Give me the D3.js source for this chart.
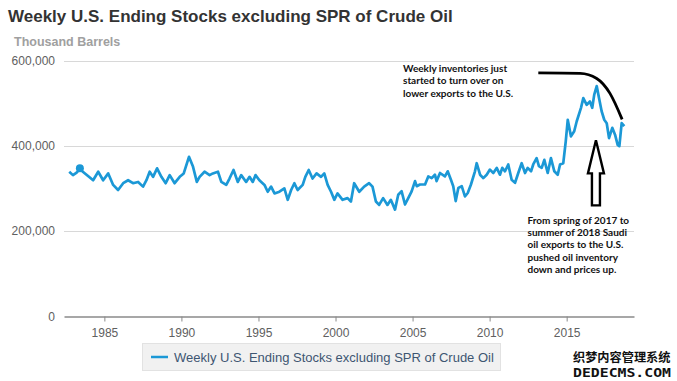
<!DOCTYPE html>
<html>
<head>
<meta charset="utf-8">
<script src="https://cdn.jsdelivr.net/npm/d3@7"></script>
<style>
  body { margin: 0; background: #fff; }
  svg { display: block; font-family: "Liberation Sans", Arial, sans-serif; }
</style>
</head>
<body>
<svg id="chart" width="677" height="381"></svg>
<script>
// weekly ending stocks (decimal year, thousand barrels)
var years = [1982.72, 1982.96, 1983.2, 1983.41, 1983.74, 1984.0, 1984.27, 1984.6, 1984.92, 1985.25,
    1985.57, 1985.89, 1986.22, 1986.54, 1986.86, 1987.19, 1987.51, 1987.73, 1987.94, 1988.16,
    1988.42, 1988.7, 1988.98, 1989.24, 1989.56, 1989.89, 1990.15, 1990.49, 1990.75, 1991.0,
    1991.18, 1991.5, 1991.83, 1992.04, 1992.37, 1992.59, 1992.91, 1993.12, 1993.38, 1993.66,
    1993.88, 1994.2, 1994.42, 1994.63, 1994.81, 1995.06, 1995.39, 1995.6, 1995.82, 1996.04,
    1996.36, 1996.68, 1996.9, 1997.12, 1997.33, 1997.54, 1997.87, 1998.04, 1998.26, 1998.51,
    1998.77, 1999.06, 1999.27, 1999.49, 1999.71, 1999.92, 2000.13, 2000.46,
    2000.78, 2001.0, 2001.21, 2001.54, 2001.86, 2002.18, 2002.4, 2002.62, 2002.83, 2003.09,
    2003.37, 2003.59,
    2003.86, 2004.07, 2004.29, 2004.51, 2004.72, 2004.94, 2005.16, 2005.27, 2005.48, 2005.81,
    2006.02, 2006.24, 2006.45, 2006.56, 2006.78, 2007.10, 2007.28, 2007.49, 2007.64, 2007.80,
    2007.97, 2008.19, 2008.40, 2008.58, 2008.79, 2009.05, 2009.16, 2009.38, 2009.59, 2009.81,
    2010.02, 2010.24, 2010.46, 2010.67, 2010.82, 2011.00, 2011.21, 2011.43, 2011.65, 2011.86,
    2012.08, 2012.30, 2012.47, 2012.69, 2012.83, 2013.05, 2013.20, 2013.38, 2013.55, 2013.77,
    2013.98, 2014.20, 2014.42, 2014.57, 2014.78, 2014.94, 2015.07, 2015.28, 2015.49, 2015.65,
    2015.93, 2016.08, 2016.30, 2016.51, 2016.66, 2016.79, 2016.95, 2017.10, 2017.27, 2017.44,
    2017.60, 2017.75, 2017.96, 2018.14, 2018.31, 2018.42, 2018.57, 2018.74];

var stocks = [340, 332, 338, 346, 336, 328, 320, 340, 320, 336,
    309, 297, 313, 320, 313, 316, 305, 320, 340, 328,
    348, 328, 313, 332, 313, 328, 336, 375, 352, 316,
    328, 340, 332, 336, 340, 316, 309, 324, 344, 316,
    332, 316, 328, 316, 332, 320, 309, 293, 305, 289,
    293, 301, 274, 297, 313, 297, 309, 328, 344, 324,
    336, 328, 336, 309, 293, 274, 289, 274,
    278, 270, 313, 293, 305, 313, 305, 270, 262, 278,
    262, 274,
    251, 286, 294, 263, 278, 294, 318, 306, 310, 310,
    329, 325, 333, 318, 337, 329, 341, 321, 306, 271,
    302, 306, 282, 290, 310, 341, 360, 333, 325, 333,
    345, 337, 349, 333, 349, 341, 357, 321, 314, 337,
    360, 337, 349, 341, 357, 372, 353, 349, 368, 337,
    372, 341, 333, 357, 360, 411, 462, 423, 435, 458,
    490, 513, 497, 505, 490, 521, 541, 513, 482, 462,
    454, 419, 443, 427, 403, 400, 454, 447];

var markerIndex = 3;   // highlighted point
var xTicks = [1985, 1990, 1995, 2000, 2005, 2010, 2015];
var yTicks = [0, 200, 400, 600];

var seriesName = "Weekly U.S. Ending Stocks excluding SPR of Crude Oil";
var titleText = "Weekly U.S. Ending Stocks excluding SPR of Crude Oil";
var unitText = "Thousand Barrels";
var note1 = ["Weekly inventories just", "started to turn over on", "lower exports to the U.S."];
var note2 = ["From spring of 2017 to", "summer of 2018 Saudi", "oil exports to the U.S.", "pushed oil inventory", "down and prices up."];

// annotation shapes, in data units
var bendYears = [2013.16, 2015.87, 2016.95, 2017.81, 2018.6];
var bendValues = [572, 571, 559, 524, 463];
var arrowAt = {year: 2016.9, tip: 414, head: 336, base: 261};

var blue = "#1b98d6";

var svg = d3.select("#chart");

var x = d3.scaleLinear().domain([1982.38, 2019.37]).range([64, 634]);
var y = d3.scaleLinear().domain([0, 600]).range([316.5, 61]);

// title
svg.append("text")
    .attr("x", 8).attr("y", 22)
    .style("font-size", "17px").style("font-weight", "bold")
    .attr("fill", "#333")
    .text(titleText);

svg.append("text")
    .attr("x", 14).attr("y", 46)
    .style("font-size", "12.5px").style("font-weight", "bold")
    .attr("fill", "#a0a0a0")
    .text(unitText);

// grid + y labels
var grid = svg.append("g");
grid.selectAll("line")
    .data(yTicks.filter(d => d > 0))
    .join("line")
    .attr("x1", x.range()[0]).attr("x2", x.range()[1])
    .attr("y1", d => Math.round(y(d)) + 0.5).attr("y2", d => Math.round(y(d)) + 0.5)
    .attr("stroke", "#d8d8d8").attr("stroke-width", 1);

grid.selectAll("text")
    .data(yTicks)
    .join("text")
    .attr("x", 55)
    .attr("y", d => y(d) + 4)
    .attr("text-anchor", "end")
    .style("font-size", "12px")
    .attr("fill", "#606060")
    .text(d => d3.format(",")(d * 1000));

// x axis
var xAxis = svg.append("g")
    .attr("transform", "translate(0," + y(0) + ")")
    .call(d3.axisBottom(x).tickValues(xTicks).tickSize(5).tickFormat(d3.format("d")).tickSizeOuter(0));
xAxis.select(".domain").attr("stroke", "#8a8a8a").attr("stroke-width", 1.5);
xAxis.selectAll(".tick line").attr("stroke", "#8a8a8a");
xAxis.selectAll(".tick text")
    .attr("dy", "1.05em")
    .style("font-size", "12px")
    .style("font-family", "Liberation Sans, Arial, sans-serif")
    .attr("fill", "#606060");

// series
var points = years.map((yr, i) => [yr, stocks[i]]);
var line = d3.line()
    .x(d => x(d[0]))
    .y(d => y(d[1]));

svg.append("path")
    .datum(points)
    .attr("d", line)
    .attr("fill", "none")
    .attr("stroke", blue)
    .attr("stroke-width", 2.7)
    .attr("stroke-linejoin", "round");

svg.append("circle")
    .attr("cx", x(years[markerIndex]))
    .attr("cy", y(stocks[markerIndex]) - 1)
    .attr("r", 4)
    .attr("fill", blue);

// annotation: curved black line
var bend = d3.line()
    .x(d => x(d[0]))
    .y(d => y(d[1]))
    .curve(d3.curveMonotoneX);
svg.append("path")
    .datum(bendYears.map((yr, i) => [yr, bendValues[i]]))
    .attr("d", bend)
    .attr("fill", "none")
    .attr("stroke", "#000")
    .attr("stroke-width", 2.8);

// annotation: hollow up arrow
var ax = x(arrowAt.year);
var arrowPts = [
    [ax, y(arrowAt.tip)],
    [ax + 8, y(arrowAt.head)],
    [ax + 4, y(arrowAt.head)],
    [ax + 4, y(arrowAt.base)],
    [ax - 4, y(arrowAt.base)],
    [ax - 4, y(arrowAt.head)],
    [ax - 8, y(arrowAt.head)]
];
svg.append("polygon")
    .attr("points", arrowPts.map(p => p.join(",")).join(" "))
    .attr("fill", "#fff")
    .attr("stroke", "#000")
    .attr("stroke-width", 2.4)
    .attr("stroke-linejoin", "miter");

// annotation text
function noteBlock(lines, x0, y0, step) {
    svg.append("g").selectAll("text")
        .data(lines)
        .join("text")
        .attr("x", x0)
        .attr("y", (d, i) => y0 + i * step)
        .style("font-family", "Lato, 'Open Sans', sans-serif")
        .style("font-size", "10px")
        .style("font-weight", "bold")
        .attr("fill", "#111")
        .text(d => d);
}
noteBlock(note1, 403, 72, 12.3);
noteBlock(note2, 527.5, 223.5, 12.4);

// legend
var legend = svg.append("g");
legend.append("rect")
    .attr("x", 142.5).attr("y", 343.5)
    .attr("width", 358).attr("height", 27)
    .attr("fill", "#f1f1f1")
    .attr("stroke", "#e2e2e2");
legend.append("line")
    .attr("x1", 151).attr("x2", 168)
    .attr("y1", 357).attr("y2", 357)
    .attr("stroke", blue).attr("stroke-width", 2.5);
legend.append("text")
    .attr("x", 174).attr("y", 361.5)
    .style("font-size", "13px")
    .attr("fill", "#3e5672")
    .text(seriesName);

// watermark in the corner
svg.append("text")
    .attr("x", 573).attr("y", 362)
    .style("font-family", "'Noto Sans CJK SC', sans-serif")
    .style("font-size", "12.2px").style("font-weight", "bold")
    .attr("fill", "#111")
    .text("织梦内容管理系统");
svg.append("text")
    .attr("x", 573).attr("y", 376.5)
    .style("font-family", "'DejaVu Sans Mono', monospace")
    .style("font-size", "12px").style("font-weight", "bold")
    .attr("fill", "#111")
    .attr("textLength", 98)
    .attr("lengthAdjust", "spacingAndGlyphs")
    .text("DEDECMS.COM");
</script>
</body>
</html>
